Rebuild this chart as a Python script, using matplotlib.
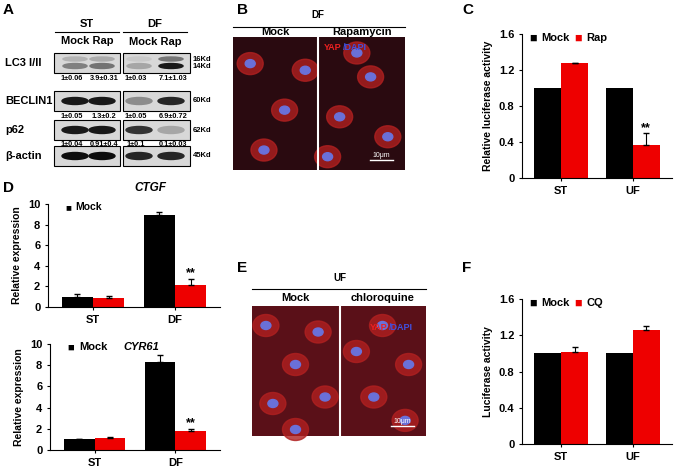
import numpy as np
import matplotlib.pyplot as plt
from matplotlib.patches import Rectangle, Ellipse

W, H = 699, 468

# ---- data ----
groups_c = ['ST', 'UF']
mock_c = [1.0, 1.0]
rap_c = [1.28, 0.37]
rap_c_err = [0.01, 0.13]

groups_d = ['ST', 'DF']
ctgf_mock = [1.0, 8.9]
ctgf_mock_err = [0.25, 0.35]
ctgf_rap = [0.9, 2.1]
ctgf_rap_err = [0.15, 0.6]
cyr_mock = [1.0, 8.3]
cyr_mock_err = [0.05, 0.65]
cyr_rap = [1.1, 1.8]
cyr_rap_err = [0.12, 0.15]

groups_f = ['ST', 'UF']
mock_f = [1.0, 1.0]
cq_f = [1.02, 1.26]
cq_f_err = [0.05, 0.04]

blot_rows = ['LC3 I/II', 'BECLIN1', 'p62', 'β-actin']
blot_kd = ['16Kd\n14Kd', '60Kd', '62Kd', '45Kd']
blot_quant = [['1±0.06', '3.9±0.31', '1±0.03', '7.1±1.03'],
              ['1±0.05', '1.3±0.2', '1±0.05', '6.9±0.72'],
              ['1±0.04', '0.91±0.4', '1±0.1', '0.1±0.03']]
band_strength = [[0.5, 0.55, 0.35, 0.9],
                 [0.9, 0.9, 0.45, 0.85],
                 [0.9, 0.9, 0.8, 0.35],
                 [0.95, 0.95, 0.85, 0.85]]

plt.rcParams['font.family'] = 'Liberation Sans'
fig = plt.figure(figsize=(6.99, 4.68), dpi=100)


def rect(l, t, r, b):
    return [l / W, 1 - b / H, (r - l) / W, (b - t) / H]


def label(x, y, s, **kw):
    fig.text(x / W, 1 - y / H, s, **kw)


def up(err, n):
    # one-sided (upper) error bars
    if err is None:
        return None
    return [np.zeros(n), err]


def barplot(ax, groups, a, b, aerr, berr, ymax, yticks, ylabel, ticklabels):
    x = np.arange(len(groups))
    w = 0.38
    ax.bar(x - w / 2, a, w, color='black', yerr=up(aerr, len(a)), capsize=2,
           error_kw=dict(ecolor='black', lw=0.8))
    ax.bar(x + w / 2, b, w, color='#ee0000', yerr=up(berr, len(b)), capsize=2,
           error_kw=dict(ecolor='black', lw=0.8))
    ax.set_xlim(-0.55, len(groups) - 0.45)
    ax.set_ylim(0, ymax)
    ax.set_yticks(yticks)
    ax.set_yticklabels(ticklabels, fontsize=8, fontweight='bold')
    ax.set_xticks(x)
    ax.set_xticklabels(groups, fontsize=8, fontweight='bold')
    ax.set_ylabel(ylabel, fontsize=7.5, fontweight='bold')
    for s in ['top', 'right']:
        ax.spines[s].set_visible(False)
    ax.tick_params(length=2, width=0.8)
    return x, w


# ---- panel C ----
axc = fig.add_axes(rect(522, 34, 672, 178))
x, w = barplot(axc, groups_c, mock_c, rap_c, None, [0, rap_c_err[1]], 1.6,
               [0, 0.4, 0.8, 1.2, 1.6], 'Relative luciferase activity',
               ['0', '0.4', '0.8', '1.2', '1.6'])
axc.text(x[1] + w / 2, rap_c[1] + rap_c_err[1] + 0.02, '**', ha='center', fontsize=9, fontweight='bold')
axc.text(0.05, 0.97, '■', transform=axc.transAxes, fontsize=9, va='center')
axc.text(0.13, 0.97, 'Mock', transform=axc.transAxes, fontsize=8, fontweight='bold', va='center')
axc.text(0.35, 0.97, '■', transform=axc.transAxes, fontsize=9, color='#ee0000', va='center')
axc.text(0.43, 0.97, 'Rap', transform=axc.transAxes, fontsize=8, fontweight='bold', va='center')

# ---- panel D ----
axd1 = fig.add_axes(rect(48, 204, 220, 307))
x, w = barplot(axd1, groups_d, ctgf_mock, ctgf_rap, ctgf_mock_err, ctgf_rap_err, 10,
               [0, 2, 4, 6, 8, 10], 'Relative expression', ['0', '2', '4', '6', '8', '10'])
axd1.text(x[1] + w / 2, ctgf_rap[1] + ctgf_rap_err[1] + 0.3, '**', ha='center', fontsize=9, fontweight='bold')
axd1.text(0.1, 0.97, '■', transform=axd1.transAxes, fontsize=7, va='center')
axd1.text(0.16, 0.97, 'Mock', transform=axd1.transAxes, fontsize=7.5, fontweight='bold', va='center')
label(150, 188, 'CTGF', fontsize=8.5, fontweight='bold', style='italic', ha='center', va='center')

axd2 = fig.add_axes(rect(50, 344, 220, 450))
x, w = barplot(axd2, groups_d, cyr_mock, cyr_rap, cyr_mock_err, cyr_rap_err, 10,
               [0, 2, 4, 6, 8, 10], 'Relative expression', ['0', '2', '4', '6', '8', '10'])
axd2.text(x[1] + w / 2, cyr_rap[1] + cyr_rap_err[1] + 0.3, '**', ha='center', fontsize=9, fontweight='bold')
axd2.text(0.1, 0.97, '■', transform=axd2.transAxes, fontsize=8, va='center')
axd2.text(0.17, 0.97, 'Mock', transform=axd2.transAxes, fontsize=8, fontweight='bold', va='center')
axd2.text(0.43, 0.97, 'CYR61', transform=axd2.transAxes, fontsize=8, fontweight='bold',
          style='italic', va='center')

# ---- panel F ----
axf = fig.add_axes(rect(522, 299, 672, 444))
x, w = barplot(axf, groups_f, mock_f, cq_f, None, cq_f_err, 1.6,
               [0, 0.4, 0.8, 1.2, 1.6], 'Luciferase activity',
               ['0', '0.4', '0.8', '1.2', '1.6'])
axf.text(0.05, 0.97, '■', transform=axf.transAxes, fontsize=9, va='center')
axf.text(0.13, 0.97, 'Mock', transform=axf.transAxes, fontsize=8, fontweight='bold', va='center')
axf.text(0.35, 0.97, '■', transform=axf.transAxes, fontsize=9, color='#ee0000', va='center')
axf.text(0.43, 0.97, 'CQ', transform=axf.transAxes, fontsize=8, fontweight='bold', va='center')

# ---- panel A: western blot (schematic) ----
axa = fig.add_axes([0, 0, 1, 1], zorder=-1)
axa.set_xlim(0, W)
axa.set_ylim(H, 0)
axa.axis('off')
lanes_x = [75, 102, 139, 171]
rows_y = [63, 101, 130, 156]
for i, ry in enumerate(rows_y):
    for bx0, bx1 in [(54, 120), (123, 190)]:
        axa.add_patch(Rectangle((bx0, ry - 10), bx1 - bx0, 20, fc='#d8d8d8', ec='black', lw=0.8))
    for j, lx in enumerate(lanes_x):
        s = band_strength[i][j]
        g = str(1 - s)
        if i == 0:
            axa.add_patch(Ellipse((lx, ry - 4), 24, 4, color=str(1 - 0.6 * s)))
            axa.add_patch(Ellipse((lx, ry + 3), 24, 5, color=g))
        else:
            axa.add_patch(Ellipse((lx, ry), 26, 7, color=g))
    label(5, ry, blot_rows[i], fontsize=8, fontweight='bold', va='center')
    label(193, ry, blot_kd[i], fontsize=5.5, fontweight='bold', va='center', linespacing=1.1)
    if i < 3:
        for j, lx in enumerate(lanes_x):
            label(lx - 3 + (j % 2) * 5, ry + 15, blot_quant[i][j], fontsize=5.3,
                  fontweight='bold', ha='center', va='center')
axa.plot([55, 119], [32, 32], color='black', lw=0.8)
axa.plot([123, 187], [32, 32], color='black', lw=0.8)
label(87, 24, 'ST', fontsize=8, fontweight='bold', ha='center', va='center')
label(155, 24, 'DF', fontsize=8, fontweight='bold', ha='center', va='center')
label(87, 41, 'Mock Rap', fontsize=8, fontweight='bold', ha='center', va='center')
label(155, 42, 'Mock Rap', fontsize=8, fontweight='bold', ha='center', va='center')


# ---- panels B, E: fluorescence images (schematic) ----
def micro(l, t, r, b, bg, cells, split):
    axa.add_patch(Rectangle((l, t), r - l, b - t, fc=bg, ec='none'))
    axa.plot([split, split], [t, b], color='white', lw=1.5)
    for (cx, cy) in cells:
        axa.add_patch(Ellipse((l + cx * (r - l), t + cy * (b - t)), 26, 22, color='#b02020', alpha=0.8))
        axa.add_patch(Ellipse((l + cx * (r - l), t + cy * (b - t)), 10, 8, color='#6a70d8'))
    axa.plot([r - 35, r - 12], [b - 10, b - 10], color='white', lw=1)
    axa.text(r - 24, b - 13, '10μm', color='white', fontsize=5, ha='center')


cells_b = [(0.1, 0.2), (0.3, 0.55), (0.18, 0.85), (0.42, 0.25), (0.62, 0.6),
           (0.8, 0.3), (0.9, 0.75), (0.55, 0.9), (0.72, 0.12)]
micro(233, 37, 405, 170, '#2a0a10', cells_b, 318)
label(318, 15, 'DF', fontsize=7, fontweight='bold', ha='center', va='center')
axa.plot([233, 405], [27, 27], color='black', lw=0.8)
label(275, 32, 'Mock', fontsize=8, fontweight='bold', ha='center', va='center')
label(362, 32, 'Rapamycin', fontsize=8, fontweight='bold', ha='center', va='center')
axa.text(324, 50, 'YAP', color='#ee2020', fontsize=6.5, fontweight='bold')
axa.text(343, 50, '/DAPI', color='#4050e0', fontsize=6.5, fontweight='bold')

cells_e = [(0.08, 0.15), (0.25, 0.45), (0.12, 0.75), (0.38, 0.2), (0.42, 0.7),
           (0.6, 0.35), (0.75, 0.15), (0.7, 0.7), (0.9, 0.45), (0.88, 0.88), (0.25, 0.95)]
micro(252, 306, 426, 436, '#5a1018', cells_e, 340)
label(340, 278, 'UF', fontsize=7, fontweight='bold', ha='center', va='center')
axa.plot([252, 426], [289, 289], color='black', lw=0.8)
label(295, 298, 'Mock', fontsize=8, fontweight='bold', ha='center', va='center')
label(383, 298, 'chloroquine', fontsize=8, fontweight='bold', ha='center', va='center')
axa.text(370, 330, 'YAP', color='#ee2020', fontsize=6.5, fontweight='bold')
axa.text(389, 330, '/DAPI', color='#4050e0', fontsize=6.5, fontweight='bold')

for s, px, py in [('A', 3, 10), ('B', 237, 10), ('C', 462, 10), ('D', 3, 188),
                  ('E', 237, 268), ('F', 462, 268)]:
    label(px, py, s, fontsize=11, fontweight='bold', va='center')

fig.savefig('out.png', dpi=100)
